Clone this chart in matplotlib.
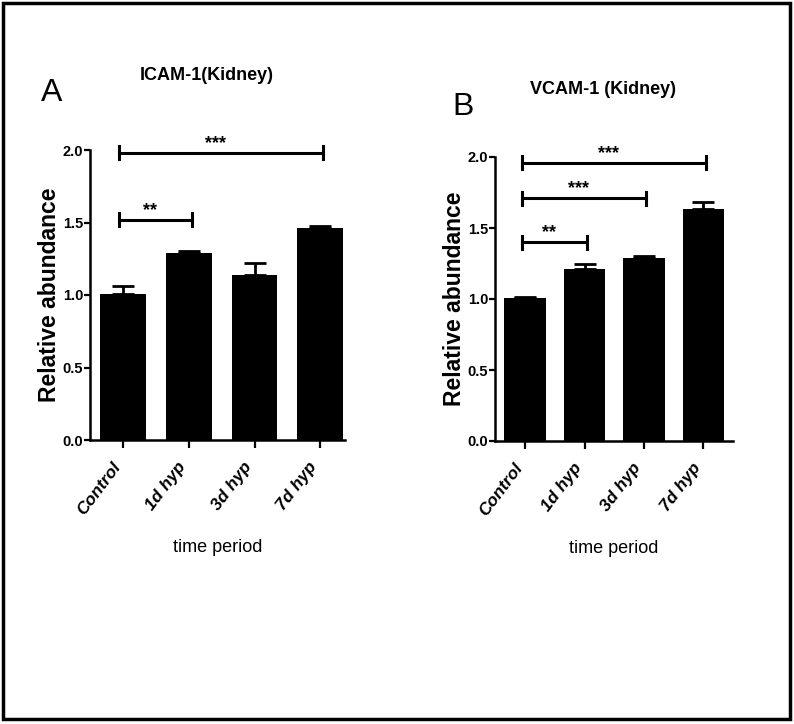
import matplotlib
matplotlib.use("Agg")
import matplotlib.pyplot as plt
from matplotlib.patches import Rectangle
import numpy as np

groups = ["Control", "1d hyp", "3d hyp", "7d hyp"]

icam_mean = [1.01, 1.29, 1.14, 1.46]
icam_err = [0.05, 0.015, 0.08, 0.015]
icam_brackets = [(0, 3, 1.98, "***"), (0, 1, 1.52, "**")]

vcam_mean = [1.005, 1.21, 1.29, 1.635]
vcam_err = [0.008, 0.035, 0.01, 0.045]
vcam_brackets = [(0, 3, 1.96, "***"), (0, 2, 1.71, "***"), (0, 1, 1.40, "**")]

FONT = ["Liberation Sans", "DejaVu Sans"]

W, H = 794, 724
fig = plt.figure(figsize=(W / 100, H / 100), dpi=100)


def px_axes(left, top, right, bottom):
    return fig.add_axes([left / W, 1 - bottom / H, (right - left) / W, (bottom - top) / H])


def panel(ax, means, errs, brackets, xlim):
    x = np.arange(len(groups))
    ax.bar(x, means, width=0.7, color="black", zorder=2)
    ax.errorbar(x, means, yerr=[np.zeros(len(errs)), errs], fmt="none",
                ecolor="black", elinewidth=2, capsize=8, capthick=2, zorder=1)
    for i0, i1, level, stars in brackets:
        xs = (i0 - 0.06, i1 + 0.04)
        ax.plot(xs, [level, level], color="black", lw=2.2, clip_on=False)
        for xe in xs:
            ax.plot([xe, xe], [level - 0.045, level + 0.045], color="black", lw=2.2, clip_on=False)
        ax.text((i0 + i1) / 2 - 0.1, level + 0.005, stars, ha="center", va="bottom",
                fontsize=13, fontweight="bold", family=FONT)
    ax.set_xlim(*xlim)
    ax.set_ylim(0, 2.0)
    ax.set_yticks([0.0, 0.5, 1.0, 1.5, 2.0])
    ax.set_yticklabels(["0.0", "0.5", "1.0", "1.5", "2.0"], fontsize=10.5,
                       fontweight="bold", family=FONT)
    ax.set_xticks(x)
    ax.set_xticklabels(groups, rotation=53, ha="right", va="top", fontsize=12.5,
                       fontweight="bold", fontstyle="italic", family=FONT)
    for s in ("top", "right"):
        ax.spines[s].set_visible(False)
    for s in ("left", "bottom"):
        ax.spines[s].set_linewidth(1.8)
    ax.tick_params(axis="y", length=4, width=1.6, pad=1)
    ax.tick_params(axis="x", length=6, width=1.6, pad=8)
    ax.set_ylabel("Relative abundance", fontsize=16.5, fontweight="bold", family=FONT, labelpad=1)
    ax.set_xlabel("time period", fontsize=13, family=FONT, labelpad=15)


axA = px_axes(90, 150, 345, 440)
panel(axA, icam_mean, icam_err, icam_brackets, (-0.51, 3.38))

axB = px_axes(495, 157, 733, 441)
panel(axB, vcam_mean, vcam_err, vcam_brackets, (-0.51, 3.5))

fig.text(207 / W, 1 - 76 / H, "ICAM-1(Kidney)", fontsize=13, fontweight="bold",
         family=FONT, ha="center", va="center")
fig.text(603 / W, 1 - 90 / H, "VCAM-1 (Kidney)", fontsize=13, fontweight="bold",
         family=FONT, ha="center", va="center")
fig.text(52 / W, 1 - 93 / H, "A", fontsize=23, family=FONT, ha="center", va="center")
fig.text(463 / W, 1 - 107 / H, "B", fontsize=23, family=FONT, ha="center", va="center")

fig.patches.append(Rectangle((3 / W, 1 - 719 / H), 787 / W, 716 / H, transform=fig.transFigure,
                             fill=False, edgecolor="black", linewidth=2.5))

fig.savefig("out.png", dpi=100)
